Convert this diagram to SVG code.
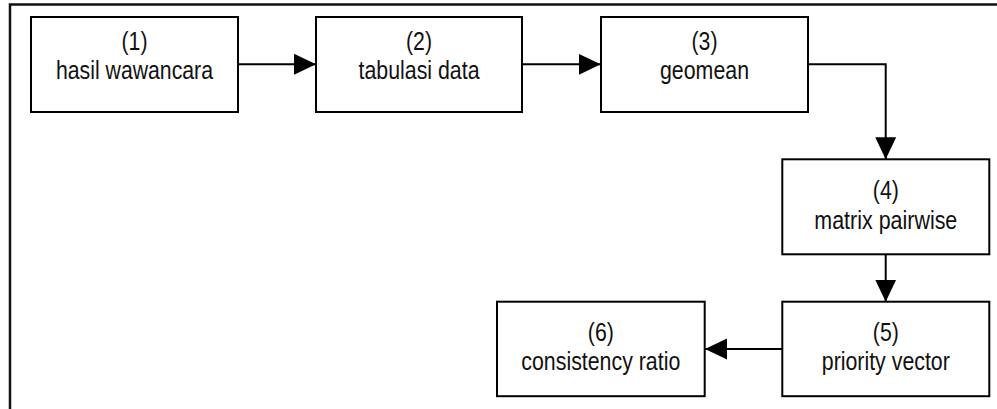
<svg xmlns="http://www.w3.org/2000/svg" width="997" height="409" viewBox="0 0 997 409">
<style>
.box{fill:#fff;stroke:#000;stroke-width:2}
.frame{fill:none;stroke:#111;stroke-width:2.5}
.conn{fill:none;stroke:#000;stroke-width:2}
text{font-family:"Liberation Sans","Arimo",Arial,sans-serif;font-size:25px;fill:#111;text-anchor:middle}
</style>
<defs>
<marker id="ah" markerUnits="userSpaceOnUse" markerWidth="22" markerHeight="22" viewBox="0 0 21 20" refX="21" refY="10" orient="auto">
<path d="M0,0 L21,10 L0,20 Z" fill="#000"/>
</marker>
</defs>
<rect width="997" height="409" fill="#fff"/>
<path class="frame" d="M10,409 V4.5 H997"/>
<g id="connectors">
<path class="conn" d="M238,64.3 H316" marker-end="url(#ah)"/>
<path class="conn" d="M522,64.3 H600.7" marker-end="url(#ah)"/>
<path class="conn" d="M808,64.3 H885.7 V159.3" marker-end="url(#ah)"/>
<path class="conn" d="M885.7,254.3 V301.7" marker-end="url(#ah)"/>
<path class="conn" d="M782.3,349 H705" marker-end="url(#ah)"/>
</g>
<g id="n1"><rect class="box" x="31" y="17" width="207" height="95"/><text x="134.5" y="50" textLength="26" lengthAdjust="spacingAndGlyphs">(1)</text><text x="134.5" y="78.5" textLength="157" lengthAdjust="spacingAndGlyphs">hasil wawancara</text></g>
<g id="n2"><rect class="box" x="316" y="17" width="206" height="95"/><text x="419" y="50" textLength="26" lengthAdjust="spacingAndGlyphs">(2)</text><text x="419" y="78.5" textLength="121" lengthAdjust="spacingAndGlyphs">tabulasi data</text></g>
<g id="n3"><rect class="box" x="601" y="17" width="207" height="95"/><text x="704.5" y="50" textLength="26" lengthAdjust="spacingAndGlyphs">(3)</text><text x="704.5" y="78.5" textLength="89" lengthAdjust="spacingAndGlyphs">geomean</text></g>
<g id="n4"><rect class="box" x="782.3" y="159.3" width="207" height="95"/><text x="885.8" y="198.5" textLength="26" lengthAdjust="spacingAndGlyphs">(4)</text><text x="885.8" y="228.5" textLength="143" lengthAdjust="spacingAndGlyphs">matrix pairwise</text></g>
<g id="n5"><rect class="box" x="782.3" y="301.7" width="207" height="94.5"/><text x="885.8" y="340.5" textLength="26" lengthAdjust="spacingAndGlyphs">(5)</text><text x="885.8" y="369.5" textLength="128" lengthAdjust="spacingAndGlyphs">priority vector</text></g>
<g id="n6"><rect class="box" x="497" y="301.7" width="207.7" height="94.5"/><text x="600.8" y="340.5" textLength="26" lengthAdjust="spacingAndGlyphs">(6)</text><text x="600.8" y="369.5" textLength="159" lengthAdjust="spacingAndGlyphs">consistency ratio</text></g>
</svg>
